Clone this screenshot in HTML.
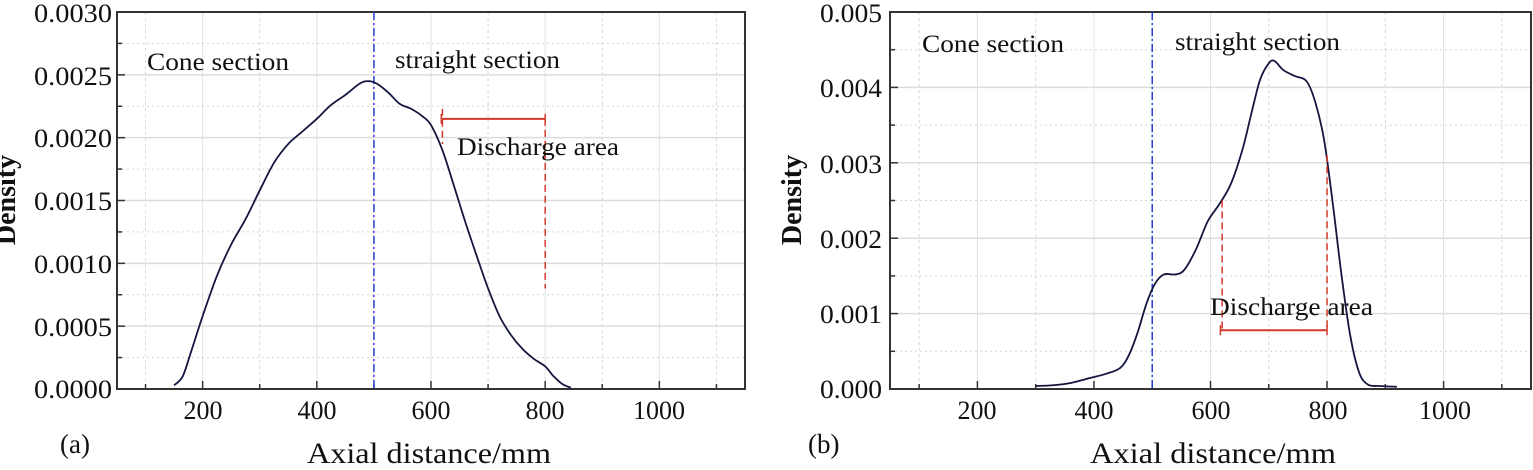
<!DOCTYPE html>
<html><head><meta charset="utf-8"><style>
html,body{margin:0;padding:0;background:#fff}
svg{display:block;font-family:"Liberation Serif",serif}
</style></head><body>
<svg id="s" width="1533" height="470" viewBox="0 0 1533 470" xmlns="http://www.w3.org/2000/svg">
<g id="ga"></g><g id="gb"></g>
<!-- panel a text -->
<g font-size="26" fill="#111" text-anchor="end">
<text x="112" y="22" textLength="78" lengthAdjust="spacingAndGlyphs">0.0030</text>
<text x="112" y="85" textLength="78" lengthAdjust="spacingAndGlyphs">0.0025</text>
<text x="112" y="147" textLength="78" lengthAdjust="spacingAndGlyphs">0.0020</text>
<text x="112" y="210" textLength="78" lengthAdjust="spacingAndGlyphs">0.0015</text>
<text x="112" y="273" textLength="78" lengthAdjust="spacingAndGlyphs">0.0010</text>
<text x="112" y="336" textLength="78" lengthAdjust="spacingAndGlyphs">0.0005</text>
<text x="112" y="398" textLength="78" lengthAdjust="spacingAndGlyphs">0.0000</text>
</g>
<g font-size="26" fill="#111" text-anchor="middle">
<text x="203" y="419">200</text><text x="317" y="419">400</text><text x="431" y="419">600</text><text x="545" y="419">800</text><text x="659" y="419">1000</text>
</g>
<text x="15" y="200" font-size="28" font-weight="bold" fill="#111" text-anchor="middle" transform="rotate(-90 15 200)">Density</text>
<text x="307" y="463" font-size="30" fill="#111" textLength="244" lengthAdjust="spacingAndGlyphs">Axial distance/mm</text>
<text x="60" y="453" font-size="27" fill="#111">(a)</text>
<text x="147" y="70" font-size="25" fill="#111" textLength="142" lengthAdjust="spacingAndGlyphs">Cone section</text>
<text x="395" y="68" font-size="25" fill="#111" textLength="165" lengthAdjust="spacingAndGlyphs">straight section</text>
<text x="457" y="155" font-size="25" fill="#111" textLength="162" lengthAdjust="spacingAndGlyphs">Discharge area</text>
<!-- panel b text -->
<g font-size="26" fill="#111" text-anchor="end">
<text x="882" y="22" textLength="62" lengthAdjust="spacingAndGlyphs">0.005</text>
<text x="882" y="97" textLength="62" lengthAdjust="spacingAndGlyphs">0.004</text>
<text x="882" y="173" textLength="62" lengthAdjust="spacingAndGlyphs">0.003</text>
<text x="882" y="248" textLength="62" lengthAdjust="spacingAndGlyphs">0.002</text>
<text x="882" y="323" textLength="62" lengthAdjust="spacingAndGlyphs">0.001</text>
<text x="882" y="398" textLength="62" lengthAdjust="spacingAndGlyphs">0.000</text>
</g>
<g font-size="26" fill="#111" text-anchor="middle">
<text x="977" y="419">200</text><text x="1094" y="419">400</text><text x="1211" y="419">600</text><text x="1328" y="419">800</text><text x="1445" y="419">1000</text>
</g>
<text x="801" y="200" font-size="28" font-weight="bold" fill="#111" text-anchor="middle" transform="rotate(-90 801 200)">Density</text>
<text x="1090" y="463" font-size="30" fill="#111" textLength="246" lengthAdjust="spacingAndGlyphs">Axial distance/mm</text>
<text x="808" y="453" font-size="27" fill="#111">(b)</text>
<text x="922" y="52" font-size="25" fill="#111" textLength="142" lengthAdjust="spacingAndGlyphs">Cone section</text>
<text x="1175" y="50" font-size="25" fill="#111" textLength="165" lengthAdjust="spacingAndGlyphs">straight section</text>
<text x="1210" y="315" font-size="25" fill="#111" textLength="163" lengthAdjust="spacingAndGlyphs">Discharge area</text>
</svg>
<script>
var NS="http://www.w3.org/2000/svg";
function el(g,t,a){var e=document.createElementNS(NS,t);for(var k in a)e.setAttribute(k,a[k]);g.appendChild(e);return e;}
function smooth(pts){var d="M"+pts[0][0]+","+pts[0][1];for(var i=0;i<pts.length-1;i++){var p0=pts[i-1]||pts[i],p1=pts[i],p2=pts[i+1],p3=pts[i+2]||p2;
d+=" C"+(p1[0]+(p2[0]-p0[0])/6)+","+(p1[1]+(p2[1]-p0[1])/6)+" "+(p2[0]-(p3[0]-p1[0])/6)+","+(p2[1]-(p3[1]-p1[1])/6)+" "+p2[0]+","+p2[1];}return d;}
function panel(id,L,R,ymax,ystep,data,red){
 var g=document.getElementById(id),T=12,B=389;
 var X=function(v){return L+(v-50)/1100*(R-L)},Y=function(v){return B-v/ymax*(B-T)};
 for(var v=100;v<=1100;v+=100){var maj=v%200==0;el(g,"line",{x1:X(v),x2:X(v),y1:T,y2:B,stroke:maj?"#e2e2e2":"#d6d6d6","stroke-width":1,"stroke-dasharray":maj?"":"3,3"});}
 var n=Math.round(ymax/ystep*2);
 for(var i=1;i<n;i++){var yy=B-i*(B-T)/n;el(g,"line",{x1:L,x2:R,y1:yy,y2:yy,stroke:i%2==0?"#dcdcdc":"#d6d6d6","stroke-width":i%2==0?1.5:1,"stroke-dasharray":i%2==0?"":"2,3"});}
 el(g,"rect",{x:L,y:T,width:R-L,height:B-T,fill:"none",stroke:"#333","stroke-width":2});
 for(var v=100;v<=1100;v+=100){el(g,"line",{x1:X(v),x2:X(v),y1:B,y2:B-(v%200==0?8:5),stroke:"#333","stroke-width":1.5});}
 for(var i=1;i<n;i++){var yy=B-i*(B-T)/n;el(g,"line",{x1:L,x2:L+(i%2==0?8:5),y1:yy,y2:yy,stroke:"#333","stroke-width":1.5});}
 el(g,"line",{x1:X(500),x2:X(500),y1:T,y2:B,stroke:"#1f3fd6","stroke-width":1.5,"stroke-dasharray":"8,3,2,3"});
 var pts=data.map(function(p){return [X(p[0]),Y(p[1])]});
 el(g,"path",{d:smooth(pts),fill:"none",stroke:"#14163f","stroke-width":1.8});
 var rc="#d43a2a";
 red.dash.forEach(function(d){el(g,"line",{x1:X(d[0]),x2:X(d[0]),y1:Y(d[1]),y2:Y(d[2]),stroke:rc,"stroke-width":1.5,"stroke-dasharray":"7,4"});});
 var by=Y(red.bar[2]);
 el(g,"line",{x1:X(red.bar[0]),x2:X(red.bar[1]),y1:by,y2:by,stroke:rc,"stroke-width":2});
 el(g,"line",{x1:X(red.bar[0]),x2:X(red.bar[0]),y1:by-5,y2:by+5,stroke:rc,"stroke-width":1.5});
 el(g,"line",{x1:X(red.bar[1]),x2:X(red.bar[1]),y1:by-5,y2:by+5,stroke:rc,"stroke-width":1.5});
}
panel("ga",117,745,0.003,0.0005,
[[150,0.00003],[165,0.0001],[180,0.0003],[200,0.00058],[225,0.0009],[250,0.00115],[275,0.00135],[300,0.00158],[325,0.0018],[350,0.00195],[375,0.00205],[400,0.00215],[425,0.00226],[450,0.00234],[475,0.00243],[490,0.00245],[505,0.00243],[525,0.00236],[545,0.00227],[565,0.00223],[585,0.00217],[600,0.0021],[620,0.0019],[640,0.00162],[660,0.00133],[680,0.00106],[700,0.0008],[720,0.00058],[740,0.00043],[760,0.00032],[780,0.00024],[800,0.00018],[815,0.0001],[830,0.00004],[845,0.00001]],
{dash:[[620,0.00223,0.00195],[800,0.00215,0.0008]],bar:[618,800,0.00215]});
panel("gb",890,1531,0.005,0.001,
[[300,0.00004],[330,0.00005],[360,0.00008],[390,0.00014],[420,0.0002],[445,0.00028],[460,0.00045],[475,0.00075],[490,0.00113],[505,0.0014],[520,0.00152],[540,0.00152],[555,0.00158],[575,0.00185],[595,0.00222],[615,0.00245],[635,0.00272],[655,0.00318],[670,0.00365],[685,0.0041],[700,0.00432],[710,0.00435],[725,0.00423],[745,0.00415],[765,0.00408],[780,0.0038],[795,0.0033],[810,0.00245],[825,0.0015],[840,0.0007],[855,0.00022],[870,0.00006],[890,0.00004],[920,0.00003]],
{dash:[[620,0.0025,0.00078],[800,0.0031,0.00078]],bar:[617,800,0.00078]});
</script>
</body></html>
